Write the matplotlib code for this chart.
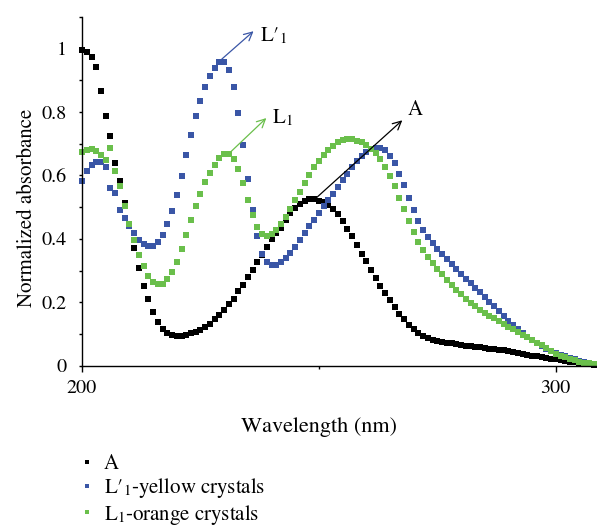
import matplotlib
matplotlib.use('Agg')
import matplotlib.pyplot as plt
import numpy as np
from matplotlib.ticker import MultipleLocator, FixedLocator, FuncFormatter

plt.rcParams['font.family'] = ['STIXGeneral', 'DejaVu Serif']
plt.rcParams['mathtext.fontset'] = 'stix'
plt.rcParams['font.size'] = 15

# wavelength grid, one reading per nm
wavelength = list(range(200, 309))

absorb_A = [0.995, 0.988, 0.975, 0.942, 0.866, 0.787, 0.724, 0.640, 0.581, 0.514,
            0.443, 0.370, 0.307, 0.250, 0.209, 0.169, 0.138, 0.115, 0.102, 0.096,
            0.093, 0.093, 0.096, 0.102, 0.106, 0.111, 0.121, 0.133, 0.147, 0.159,
            0.176, 0.193, 0.210, 0.234, 0.256, 0.281, 0.303, 0.327, 0.349, 0.375,
            0.398, 0.417, 0.434, 0.461, 0.480, 0.496, 0.511, 0.520, 0.525, 0.525,
            0.520, 0.516, 0.506, 0.493, 0.478, 0.456, 0.432, 0.408, 0.382, 0.353,
            0.329, 0.303, 0.278, 0.250, 0.229, 0.208, 0.184, 0.164, 0.147, 0.129,
            0.115, 0.102, 0.094, 0.087, 0.082, 0.078, 0.075, 0.073, 0.070, 0.067,
            0.065, 0.063, 0.062, 0.060, 0.058, 0.056, 0.054, 0.052, 0.050, 0.048,
            0.046, 0.043, 0.041, 0.038, 0.035, 0.032, 0.029, 0.027, 0.024, 0.022,
            0.020, 0.018, 0.016, 0.013, 0.011, 0.009, 0.006, 0.004, 0.002]

absorb_L1p = [0.584, 0.615, 0.634, 0.644, 0.641, 0.628, 0.560, 0.546, 0.492, 0.466,
              0.442, 0.419, 0.396, 0.384, 0.378, 0.379, 0.390, 0.413, 0.446, 0.489,
              0.539, 0.599, 0.663, 0.728, 0.787, 0.835, 0.880, 0.915, 0.940, 0.958,
              0.958, 0.933, 0.878, 0.797, 0.696, 0.588, 0.491, 0.408, 0.353, 0.328,
              0.318, 0.318, 0.326, 0.340, 0.356, 0.375, 0.395, 0.417, 0.439, 0.461,
              0.483, 0.503, 0.524, 0.543, 0.565, 0.585, 0.606, 0.627, 0.645, 0.661,
              0.675, 0.683, 0.687, 0.686, 0.679, 0.661, 0.638, 0.606, 0.570, 0.530,
              0.491, 0.456, 0.427, 0.405, 0.386, 0.368, 0.353, 0.338, 0.321, 0.305,
              0.289, 0.274, 0.261, 0.246, 0.231, 0.216, 0.202, 0.187, 0.171, 0.156,
              0.141, 0.128, 0.115, 0.102, 0.092, 0.081, 0.071, 0.062, 0.054, 0.045,
              0.039, 0.033, 0.029, 0.024, 0.020, 0.016, 0.012, 0.008, 0.005]

absorb_L1 = [0.674, 0.680, 0.682, 0.677, 0.665, 0.648, 0.686, 0.614, 0.567, 0.503,
             0.447, 0.395, 0.349, 0.313, 0.284, 0.263, 0.258, 0.259, 0.273, 0.296,
             0.327, 0.367, 0.413, 0.459, 0.505, 0.543, 0.579, 0.609, 0.634, 0.656,
             0.669, 0.669, 0.653, 0.619, 0.575, 0.523, 0.476, 0.437, 0.414, 0.408,
             0.414, 0.429, 0.447, 0.470, 0.495, 0.522, 0.549, 0.575, 0.601, 0.626,
             0.646, 0.664, 0.679, 0.693, 0.704, 0.711, 0.714, 0.714, 0.710, 0.704,
             0.695, 0.683, 0.670, 0.651, 0.627, 0.598, 0.566, 0.530, 0.493, 0.455,
             0.421, 0.391, 0.364, 0.343, 0.324, 0.305, 0.289, 0.271, 0.255, 0.240,
             0.225, 0.211, 0.197, 0.187, 0.176, 0.166, 0.157, 0.149, 0.140, 0.132,
             0.123, 0.115, 0.107, 0.098, 0.090, 0.081, 0.073, 0.065, 0.056, 0.047,
             0.038, 0.032, 0.026, 0.021, 0.017, 0.013, 0.010, 0.008, 0.006]

series = [(absorb_A, 'black', 'A'),
          (absorb_L1p, '#3a56a6', 'L\u2032$_1$-yellow crystals'),
          (absorb_L1, '#6abf4b', 'L$_1$-orange crystals')]

fig = plt.figure(figsize=(5.97, 5.26), dpi=100)
ax = fig.add_axes([0.1374, 0.3048, 0.8626, 0.663])

handles = []
for y, color, label in series:
    h, = ax.plot(wavelength, y, linestyle='none', marker='s', markersize=3.8,
                 color=color, markeredgewidth=0, label=label, clip_on=False)
    handles.append(h)

ax.set_xlim(200, 308.7)
ax.set_ylim(0, 1.1)

for side in ['top', 'right']:
    ax.spines[side].set_visible(False)
for side in ['left', 'bottom']:
    ax.spines[side].set_linewidth(1.0)

ax.xaxis.set_major_locator(FixedLocator([200, 300]))
ax.xaxis.set_minor_locator(FixedLocator([250]))
ax.tick_params(axis='x', which='major', length=4.3, width=1.0, pad=6, labelsize=14.5)
ax.tick_params(axis='x', which='minor', length=2.4, width=1.0)

ax.yaxis.set_major_locator(MultipleLocator(0.2))
ax.yaxis.set_minor_locator(MultipleLocator(0.1))
ax.yaxis.set_major_formatter(FuncFormatter(lambda v, p: '%g' % round(v, 1)))
ax.tick_params(axis='y', which='both', length=2.4, width=1.0)
ax.tick_params(axis='y', which='major', pad=8.4, labelsize=14.5)

ax.set_xlabel('Wavelength (nm)', fontsize=16)
ax.xaxis.set_label_coords(0.46, -0.147)
ax.set_ylabel('Normalized absorbance')
ax.yaxis.set_label_coords(-0.088, 0.452)

arrow = dict(arrowstyle='->', lw=0.9, shrinkA=0, shrinkB=0)
ax.annotate('', xy=(236.2, 1.055), xytext=(229.5, 0.967),
            arrowprops=dict(arrow, color='#3a56a6'))
ax.text(237.6, 1.04, 'L\u2032$_1$', va='center', ha='left')
ax.annotate('', xy=(238.9, 0.781), xytext=(231.0, 0.669),
            arrowprops=dict(arrow, color='#6abf4b'))
ax.text(240.1, 0.78, 'L$_1$', va='center', ha='left')
ax.annotate('', xy=(267.6, 0.774), xytext=(249.5, 0.530),
            arrowprops=dict(arrow, color='black'))
ax.text(268.8, 0.806, 'A', va='center', ha='left')

fig.legend(handles=handles, loc='upper left', bbox_to_anchor=(0.132, 0.1358),
           frameon=False, handlelength=0.8, handletextpad=0.4, markerscale=0.75,
           labelspacing=0.1, borderpad=0, borderaxespad=0)

fig.savefig('out.png', dpi=100)
